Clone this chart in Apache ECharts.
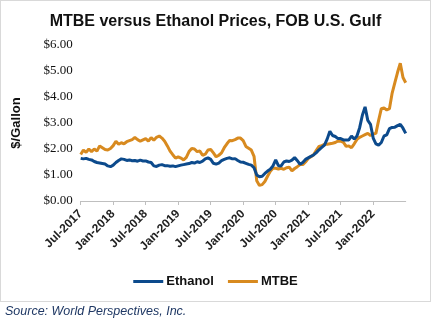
<!DOCTYPE html>
<html>
<head>
<meta charset="utf-8">
<script src="https://cdn.jsdelivr.net/npm/echarts@6/dist/echarts.min.js"></script>
<style>
html,body{margin:0;padding:0;background:#fff;}
#frame{position:absolute;left:0;top:0;width:429px;height:300px;border:1px solid #d9d9d9;box-sizing:content-box;}
#chart{position:absolute;left:0;top:0;width:431px;height:322px;}
#src{position:absolute;left:5px;top:304px;font:italic 12.5px "Liberation Sans",Arial,sans-serif;color:#1f3864;}
</style>
</head>
<body>
<div id="frame"></div>
<div id="chart"></div>
<div id="src">Source: World Perspectives, Inc.</div>
<script>
// Semi-monthly observations, Jul-2017 .. Jul-2022
const tickLabels = ['Jul-2017','Jan-2018','Jul-2018','Jan-2019','Jul-2019','Jan-2020','Jul-2020','Jan-2021','Jul-2021','Jan-2022'];

const ethanol = [
1.64,1.62,1.64,1.60,1.58,1.52,1.48,1.46,1.44,1.42,1.35,1.32,1.38,1.48,1.56,1.62,1.60,1.56,1.58,1.55,
1.56,1.53,1.57,1.54,1.54,1.50,1.48,1.35,1.33,1.38,1.40,1.36,1.36,1.34,1.35,1.32,1.35,1.38,1.40,1.42,
1.44,1.48,1.46,1.51,1.48,1.53,1.62,1.66,1.60,1.45,1.42,1.46,1.55,1.60,1.64,1.66,1.62,1.63,1.56,1.50,
1.49,1.45,1.41,1.38,1.28,1.00,0.93,0.95,1.06,1.15,1.22,1.35,1.58,1.36,1.35,1.50,1.54,1.52,1.57,1.67,
1.55,1.41,1.48,1.60,1.66,1.72,1.77,1.86,1.97,2.06,2.15,2.38,2.68,2.52,2.48,2.40,2.40,2.35,2.35,2.35,
2.50,2.38,2.50,2.82,3.30,3.62,3.10,2.95,2.42,2.20,2.15,2.25,2.50,2.54,2.78,2.83,2.84,2.90,2.95,2.80,
2.60];

const mtbe = [
1.79,1.96,1.87,2.00,1.90,2.00,1.92,2.12,2.05,1.98,1.96,2.02,2.13,2.30,2.18,2.24,2.20,2.28,2.32,2.36,
2.44,2.36,2.30,2.35,2.40,2.30,2.44,2.34,2.45,2.50,2.42,2.30,2.12,1.92,1.78,1.65,1.70,1.65,1.58,1.68,
1.90,2.02,2.00,1.90,1.92,1.76,1.80,1.96,1.98,1.85,1.70,1.76,1.85,2.05,2.20,2.33,2.32,2.36,2.42,2.42,
2.32,2.10,2.03,1.96,1.72,0.78,0.60,0.63,0.75,0.95,1.14,1.26,1.26,1.23,1.26,1.22,1.28,1.30,1.16,1.25,
1.32,1.40,1.40,1.50,1.63,1.70,1.78,1.95,2.10,2.13,2.18,2.18,2.20,2.22,2.25,2.31,2.30,2.26,2.10,2.12,
2.05,2.20,2.37,2.45,2.50,2.55,2.60,2.52,2.58,2.60,3.10,3.55,3.58,3.50,3.55,4.15,4.55,4.95,5.30,4.75,
4.55];

const perTick = 12; // semi-monthly points per labelled tick (6 months)
const categories = ethanol.map((_, i) => String(i));

const chart = echarts.init(document.getElementById('chart'), null, {renderer:'canvas'});
chart.setOption({
  animation:false,
  backgroundColor:'transparent',
  title:{
    text:'MTBE versus Ethanol Prices, FOB U.S. Gulf',
    left:'center', top:9,
    textStyle:{fontFamily:'Liberation Sans, Arial, sans-serif',fontSize:16,fontWeight:'bold',color:'#111'}
  },
  legend:{
    data:['Ethanol','MTBE'],
    bottom:29, left:'center',
    icon:'rect', itemWidth:30, itemHeight:3, itemGap:14,
    textStyle:{fontFamily:'Liberation Sans, Arial, sans-serif',fontSize:13,fontWeight:'bold',color:'#111',padding:[0,0,0,-2]}
  },
  grid:{left:80.7,right:25.3,top:45,bottom:121,containLabel:false},
  xAxis:{
    type:'category',
    data:categories,
    boundaryGap:false,
    axisLine:{lineStyle:{color:'#bfbfbf',width:1}},
    axisTick:{show:true,length:4,lineStyle:{color:'#bfbfbf'},
      interval:(i)=> i % perTick === 0 && i/perTick < tickLabels.length},
    axisLabel:{
      rotate:45, margin:11,
      interval:(i)=> i % perTick === 0 && i/perTick < tickLabels.length,
      formatter:(v,i)=> tickLabels[i/perTick] || '',
      fontFamily:'Liberation Sans, Arial, sans-serif',fontSize:12,fontWeight:'bold',color:'#222'
    },
    splitLine:{show:false}
  },
  yAxis:{
    type:'value', min:0, max:6, interval:1,
    name:'$/Gallon', nameLocation:'middle', nameGap:58, nameRotate:90,
    nameTextStyle:{fontFamily:'Liberation Sans, Arial, sans-serif',fontSize:13,fontWeight:'bold',color:'#111'},
    axisLine:{show:false}, axisTick:{show:false},
    splitLine:{show:false},
    axisLabel:{formatter:(v)=>'$'+v.toFixed(2),fontFamily:'Liberation Serif, Times New Roman, serif',fontSize:13,color:'#111',margin:8}
  },
  series:[
    {name:'Ethanol',type:'line',data:ethanol,showSymbol:false,symbol:'none',
      lineStyle:{color:'#0c4a8c',width:3},itemStyle:{color:'#0c4a8c'},z:3},
    {name:'MTBE',type:'line',data:mtbe,showSymbol:false,symbol:'none',
      lineStyle:{color:'#d88a1f',width:3},itemStyle:{color:'#d88a1f'},z:2}
  ]
});
</script>
</body>
</html>
